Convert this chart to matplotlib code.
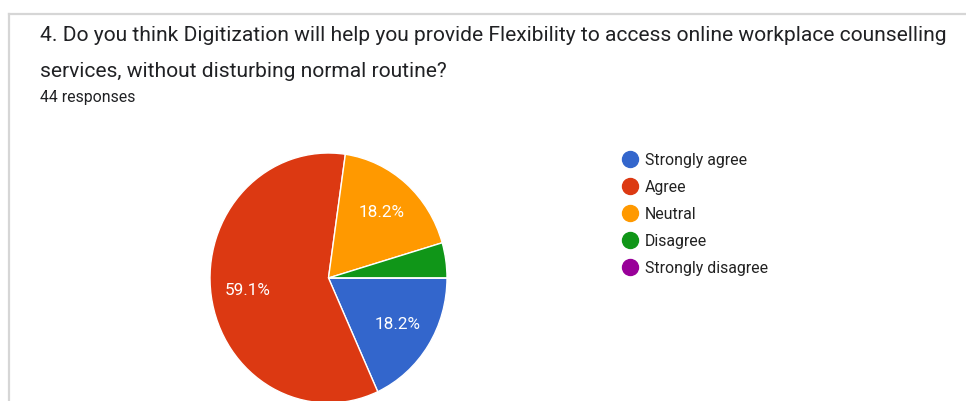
import matplotlib
matplotlib.use("Agg")
import matplotlib.pyplot as plt
from matplotlib.lines import Line2D

plt.rcParams['font.family'] = ['Roboto', 'DejaVu Sans']

# Survey answers (44 responses)
answers = ['Strongly agree', 'Agree', 'Neutral', 'Disagree', 'Strongly disagree']
counts = [8, 26, 8, 2, 0]
colors = ['#3366cc', '#dc3912', '#ff9900', '#109618', '#990099']

question_line1 = ('4. Do you think Digitization will help you provide Flexibility '
                  'to access online workplace counselling')
question_line2 = 'services, without disturbing normal routine?'
n_responses = f'{sum(counts)} responses'

W, H = 966, 401
fig = plt.figure(figsize=(W / 100, H / 100), dpi=100)
fig.patch.set_facecolor('white')

# card border (top and left edges)
fig.add_artist(Line2D([9 / W, 1], [1 - 14 / H, 1 - 14 / H], color='#d6d6d6', lw=1.6))
fig.add_artist(Line2D([9 / W, 9 / W], [0, 1 - 14 / H], color='#d6d6d6', lw=1.6))

fig.text(40 / W, 1 - 41 / H, question_line1, fontsize=15.1, color='#202124', va='baseline')
fig.text(40 / W, 1 - 77 / H, question_line2, fontsize=15.1, color='#202124', va='baseline')
fig.text(40 / W, 1 - 102 / H, n_responses, fontsize=11.4, color='#202124', va='baseline')

# pie, slightly taller than wide
cx, cy, rx, ry = 328.5, 278, 118.5, 125
ax = fig.add_axes([(cx - rx) / W, 1 - (cy + ry) / H, 2 * rx / W, 2 * ry / H])


def pct_label(p):
    return f'{p:.1f}%' if p >= 5 else ''


wedges, _, autotexts = ax.pie(
    counts, colors=colors, startangle=0, counterclock=False,
    autopct=pct_label, pctdistance=0.69,
    wedgeprops=dict(edgecolor='white', linewidth=1.0),
    textprops=dict(color='white', fontsize=12.3))
ax.set_aspect('auto')
ax.set_xlim(-1, 1)
ax.set_ylim(-1, 1)

# legend with round markers
handles = [Line2D([], [], marker='o', ls='', markersize=11.5,
                  markerfacecolor=c, markeredgecolor=c) for c in colors]
fig.legend(handles, answers, loc='upper left',
           bbox_to_anchor=(623 / W, 1 - 153 / H), frameon=False,
           fontsize=11.4, labelcolor='#222222', handlelength=0.9,
           handletextpad=0.5, labelspacing=0.755, borderpad=0, borderaxespad=0)

fig.savefig('out.png', dpi=100)
